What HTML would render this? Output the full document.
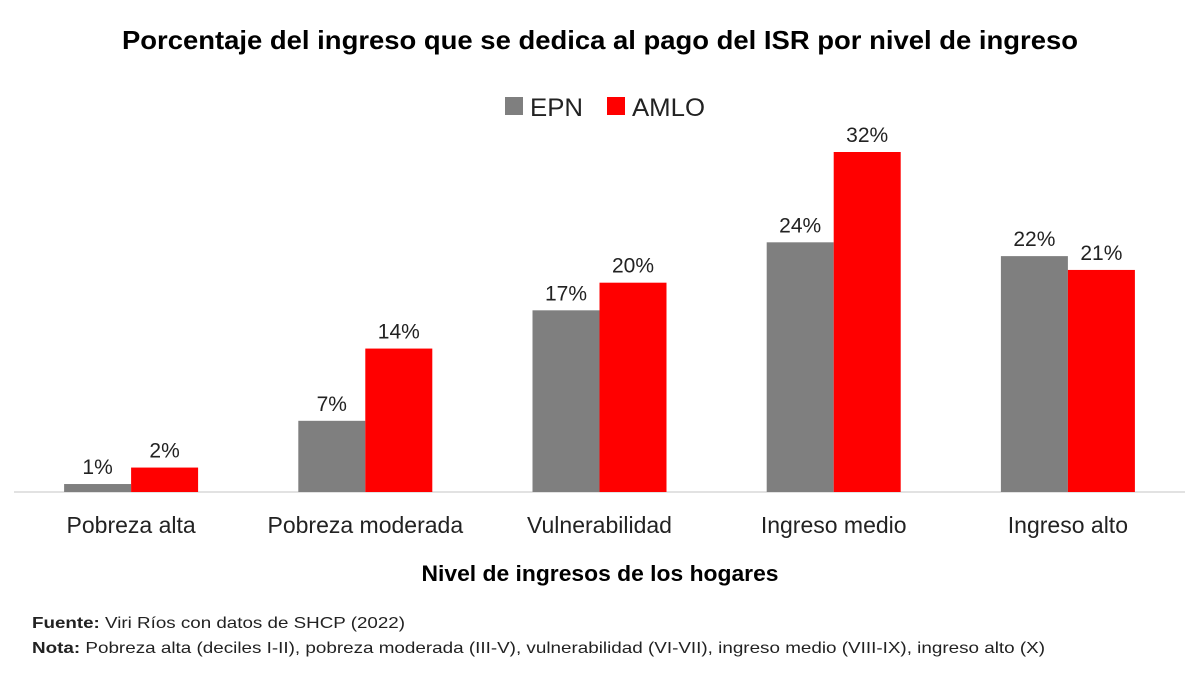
<!DOCTYPE html>
<html><head><meta charset="utf-8">
<style>
body{margin:0;background:#fff;width:1200px;height:675px;overflow:hidden;font-family:"Liberation Sans",sans-serif;}
svg text{font-family:"Liberation Sans",sans-serif;}
</style></head>
<body>
<svg id="chart" width="1200" height="675">
<text x="122" y="49" font-size="26" font-weight="bold" fill="#000" textLength="956" lengthAdjust="spacingAndGlyphs">Porcentaje del ingreso que se dedica al pago del ISR por nivel de ingreso</text>
<g>
<rect x="505" y="97" width="18" height="18" fill="#7f7f7f"/>
<text x="530" y="116" font-size="25" fill="#222" textLength="53" lengthAdjust="spacingAndGlyphs">EPN</text>
<rect x="607" y="97" width="18" height="18" fill="#ff0000"/>
<text x="632" y="116" font-size="25" fill="#222" textLength="73" lengthAdjust="spacingAndGlyphs">AMLO</text>
</g>
<line x1="14" y1="492" x2="1185" y2="492" stroke="#d9d9d9" stroke-width="1.5"/>
<g id="bars"></g>
<text x="600" y="581" text-anchor="middle" font-size="22" font-weight="bold" textLength="357" lengthAdjust="spacingAndGlyphs">Nivel de ingresos de los hogares</text>
<text x="32" y="628" font-size="16" fill="#222" textLength="373" lengthAdjust="spacingAndGlyphs"><tspan font-weight="bold">Fuente:</tspan> Viri Ríos con datos de SHCP (2022)</text>
<text x="32" y="653" font-size="16" fill="#222" textLength="1013" lengthAdjust="spacingAndGlyphs"><tspan font-weight="bold">Nota:</tspan> Pobreza alta (deciles I-II), pobreza moderada (III-V), vulnerabilidad (VI-VII), ingreso medio (VIII-IX), ingreso alto (X)</text>
</svg>
<script>
const categories=["Pobreza alta","Pobreza moderada","Vulnerabilidad","Ingreso medio","Ingreso alto"];
const epn=[0.75,6.7,17.1,23.5,22.2];
const amlo=[2.3,13.5,19.7,32.0,20.9];
const epnLabels=["1%","7%","17%","24%","22%"];
const amloLabels=["2%","14%","20%","32%","21%"];
const x0=14,x1=1185,base=492,pxPer=10.625,bw=67;
const ns="http://www.w3.org/2000/svg";
const g=document.getElementById('bars');
const step=(x1-x0)/categories.length;
function xc(i){return x0+step*(i+0.5);}
function y(v){return base-v*pxPer;}
function mk(tag,attrs){const e=document.createElementNS(ns,tag);for(const k in attrs)e.setAttribute(k,attrs[k]);g.appendChild(e);return e;}
categories.forEach((c,i)=>{
 const cx=xc(i);
 const b1=mk('rect',{x:cx-bw,y:y(epn[i]),width:bw,height:base-y(epn[i]),fill:'#7f7f7f'});
 
 
 const b2=mk('rect',{x:cx,y:y(amlo[i]),width:bw,height:base-y(amlo[i]),fill:'#ff0000'});
 
 
 const t1=mk('text',{x:cx-bw/2,y:y(epn[i])-10,'text-anchor':'middle','font-size':21,fill:'#222'});
 t1.textContent=epnLabels[i];
 
 
 const t2=mk('text',{x:cx+bw/2,y:y(amlo[i])-10,'text-anchor':'middle','font-size':21,fill:'#222'});
 t2.textContent=amloLabels[i];
 
 
 const t3=mk('text',{x:cx,y:533,'text-anchor':'middle','font-size':23,fill:'#222'});
 t3.textContent=c;
 
 
});
</script>
</body></html>
